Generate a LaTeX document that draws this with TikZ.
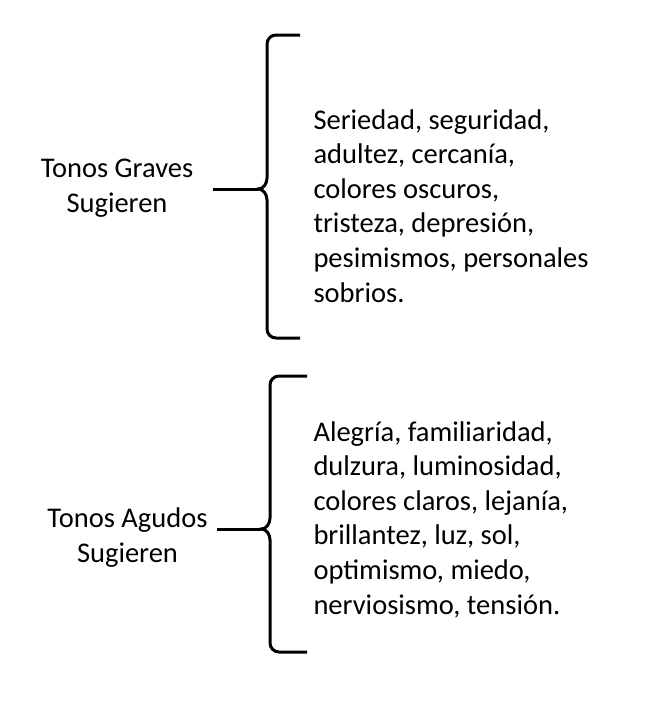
\documentclass[tikz,border=0pt]{standalone}
\usepackage{fontspec}
\setmainfont{Carlito}
\begin{document}
\begin{tikzpicture}[x=1pt,y=-1pt,line width=3pt,
  lbl/.style={align=center,anchor=base,inner sep=0pt,font=\fontsize{28.5}{35}\selectfont},
  lst/.style={align=left,anchor=base west,inner sep=0pt,font=\fontsize{28.5}{34.6}\selectfont}]
\useasboundingbox (0,0) rectangle (668,713);

% left labels (anchor = last line)
\node[lbl] (graves) at (117,212) {Tonos Graves\\Sugieren};
\node[lbl] (agudos) at (127.5,562) {Tonos Agudos\\Sugieren};

% upper brace
\coordinate (tipg) at (258,189);
\draw (300,35) -- (276,35) to[out=180,in=90] (267,44) -- (267,178)
  to[out=270,in=0] (tipg) to[out=0,in=90] (267,200) -- (267,329)
  to[out=270,in=180] (276,338) -- (300,338);
\draw (213,189) -- (tipg);

% lower brace
\coordinate (tipa) at (261,529);
\draw (307,376) -- (279,376) to[out=180,in=90] (270,385) -- (270,518)
  to[out=270,in=0] (tipa) to[out=0,in=90] (270,540) -- (270,643)
  to[out=270,in=180] (279,652) -- (307,652);
\draw (217,529) -- (tipa);

% lists
\node[lst] (listg) at (312,302) {Seriedad, seguridad,\\adultez, cercanía,\\colores oscuros,\\tristeza, depresión,\\pesimismos, personales\\sobrios.};
\node[lst] (lista) at (312,614) {Alegría, familiaridad,\\dulzura, luminosidad,\\colores claros, lejanía,\\brillantez, luz, sol,\\optimismo, miedo,\\nerviosismo, tensión.};
\end{tikzpicture}
\end{document}
